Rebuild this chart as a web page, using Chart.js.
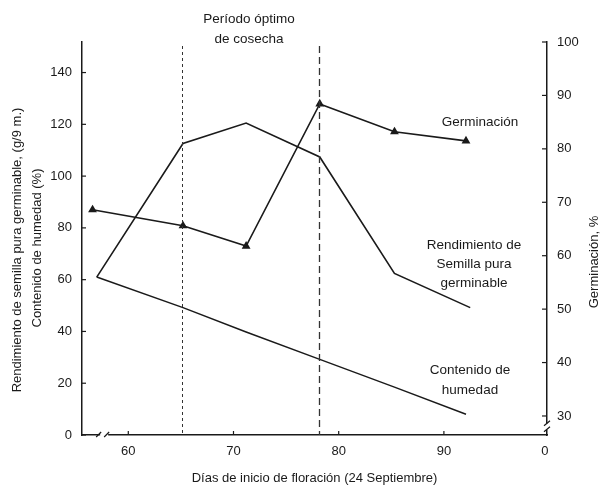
<!DOCTYPE html>
<html><head><meta charset="utf-8">
<script src="https://cdn.jsdelivr.net/npm/chart.js@4/dist/chart.umd.min.js"></script>
<style>html,body{margin:0;padding:0;background:#fff}#wrap{width:608px;height:489px}</style>
</head><body><div id="wrap"><canvas id="c" width="608" height="489"></canvas></div>
<script>
// ---- data ----
const germDays     = [56.6, 65.2, 71.2, 78.2, 85.3, 92.1];
const germination  = [68.6, 65.6, 61.8, 88.4, 83.2, 81.5];   // %, right axis
const yieldDays    = [57.0, 65.2, 71.2, 78.2, 85.3, 92.5];
const yieldVals    = [61.0, 112.6, 120.5, 107.4, 62.4, 49.2]; // left axis
const moistDays    = [57.0, 65.2, 71.2, 78.2, 85.3, 92.1];
const moisture     = [61.0, 49.2, 39.8, 29.2, 18.5, 8.0];      // left axis
const optimalDays  = [65.1, 78.1];
const xTicks       = [60, 70, 80, 90, 99.6];
const xTickLabels  = ['60', '70', '80', '90', '0'];
const leftTicks    = [0, 20, 40, 60, 80, 100, 120, 140];
const rightTicks   = [30, 40, 50, 60, 70, 80, 90, 100];

const FONT = "'Liberation Sans', Arial, sans-serif";
const INK = '#1a1a1a';

const toPts = (xs, ys) => xs.map((d, i) => ({x: d, y: ys[i]}));

const decor = {
  id: 'decor',
  afterDatasetsDraw(chart) {
    const {ctx, chartArea: a, scales: {x, y, y2}} = chart;
    ctx.save();
    optimalDays.forEach((d, i) => {
      const px = Math.round(x.getPixelForValue(d)) + 0.5;
      ctx.beginPath();
      ctx.setLineDash(i === 0 ? [3, 3] : [7, 4]);
      ctx.lineWidth = i === 0 ? 1 : 1.3;
      ctx.strokeStyle = '#333';
      ctx.moveTo(px, a.top + 4);
      ctx.lineTo(px, a.bottom);
      ctx.stroke();
    });
    ctx.setLineDash([]);
    ctx.strokeStyle = INK;
    ctx.lineWidth = 1.2;
    leftTicks.forEach(v => {
      const py = y.getPixelForValue(v);
      ctx.beginPath(); ctx.moveTo(a.left, py); ctx.lineTo(a.left + 4, py); ctx.stroke();
    });
    rightTicks.forEach(v => {
      const py = y2.getPixelForValue(v);
      ctx.beginPath(); ctx.moveTo(a.right, py); ctx.lineTo(a.right - 5, py); ctx.stroke();
    });
    xTicks.slice(0, 4).forEach(v => {
      const px = x.getPixelForValue(v);
      ctx.beginPath(); ctx.moveTo(px, a.bottom); ctx.lineTo(px, a.bottom - 4); ctx.stroke();
    });
    const bx = x.getPixelForValue(57.8);
    ctx.fillStyle = '#fff';
    ctx.fillRect(bx - 5, a.bottom - 2, 8, 4);
    ctx.beginPath();
    ctx.moveTo(bx - 9, a.bottom + 2); ctx.lineTo(bx - 4, a.bottom - 3);
    ctx.moveTo(bx - 1, a.bottom + 2); ctx.lineTo(bx + 4, a.bottom - 3);
    ctx.stroke();
    const by = y2.getPixelForValue(28);
    ctx.fillRect(a.right - 2, by - 3, 4, 6);
    ctx.beginPath();
    ctx.moveTo(a.right - 3, by - 1); ctx.lineTo(a.right + 3, by - 6);
    ctx.moveTo(a.right - 3, by + 5); ctx.lineTo(a.right + 3, by);
    ctx.stroke();
    ctx.restore();
  },
  afterDraw(chart) {
    const {ctx} = chart;
    ctx.save();
    ctx.fillStyle = INK;
    ctx.textAlign = 'center';
    ctx.textBaseline = 'middle';
    ctx.font = `13.5px ${FONT}`;
    const notes = [
      ['Período óptimo', 249, 19], ['de cosecha', 249, 39],
      ['Germinación', 480, 122],
      ['Rendimiento de', 474, 245], ['Semilla pura', 474, 264], ['germinable', 474, 283],
      ['Contenido de', 470, 370], ['humedad', 470, 390]
    ];
    notes.forEach(([t, px, py]) => ctx.fillText(t, px, py));
    ctx.font = `13px ${FONT}`;
    const vt = [
      ['Rendimiento de semilla pura germinable, (g/9 m.)', 17, 250],
      ['Contenido de humedad (%)', 37, 248],
      ['Germinación, %', 594, 262]
    ];
    vt.forEach(([t, px, py]) => {
      ctx.save(); ctx.translate(px, py); ctx.rotate(-Math.PI / 2);
      ctx.fillText(t, 0, 0); ctx.restore();
    });
    ctx.restore();
  }
};

const tickFont = {family: FONT, size: 13};

new Chart(document.getElementById('c'), {
  type: 'line',
  data: {
    datasets: [
      {label: 'Germinación', data: toPts(germDays, germination), yAxisID: 'y2',
       borderColor: INK, backgroundColor: INK, borderWidth: 1.6,
       pointStyle: 'triangle', pointRadius: 3.5, tension: 0},
      {label: 'Rendimiento de semilla pura germinable', data: toPts(yieldDays, yieldVals), yAxisID: 'y',
       borderColor: INK, borderWidth: 1.6, pointRadius: 0, tension: 0},
      {label: 'Contenido de humedad', data: toPts(moistDays, moisture), yAxisID: 'y',
       borderColor: INK, borderWidth: 1.5, pointRadius: 0, tension: 0}
    ]
  },
  options: {
    responsive: false, animation: false, devicePixelRatio: 1,
    layout: {padding: {top: 42, left: 0, right: 0, bottom: 0}},
    plugins: {legend: {display: false}, tooltip: {enabled: false}},
    scales: {
      x: {
        type: 'linear', min: 55.6, max: 99.8,
        afterBuildTicks: s => { s.ticks = xTicks.map(v => ({value: v})); },
        afterFit: s => { s.height = 54; },
        ticks: {callback: v => xTickLabels[xTicks.indexOf(v)], font: tickFont, color: INK, padding: 9, maxRotation: 0, autoSkip: false},
        grid: {display: true, drawOnChartArea: false, drawTicks: false, tickLength: 0},
        border: {color: INK, width: 1.5},
        title: {display: true, text: 'Días de inicio de floración (24 Septiembre)', font: {family: FONT, size: 13}, color: INK, padding: {top: 0, bottom: 3}}
      },
      y: {
        type: 'linear', position: 'left', min: 0, max: 151.8,
        afterBuildTicks: s => { s.ticks = leftTicks.map(v => ({value: v})); },
        afterFit: s => { s.width = 82; },
        ticks: {font: tickFont, color: INK, padding: 10, autoSkip: false},
        grid: {display: true, drawOnChartArea: false, drawTicks: false, tickLength: 0},
        border: {color: INK, width: 1.5}
      },
      y2: {
        type: 'linear', position: 'right', min: 26.44, max: 100,
        afterBuildTicks: s => { s.ticks = rightTicks.map(v => ({value: v})); },
        afterFit: s => { s.width = 61; },
        ticks: {font: tickFont, color: INK, padding: 10, autoSkip: false},
        grid: {display: true, drawOnChartArea: false, drawTicks: false, tickLength: 0},
        border: {color: INK, width: 1.5}
      }
    }
  },
  plugins: [decor]
});
</script>
</body></html>
